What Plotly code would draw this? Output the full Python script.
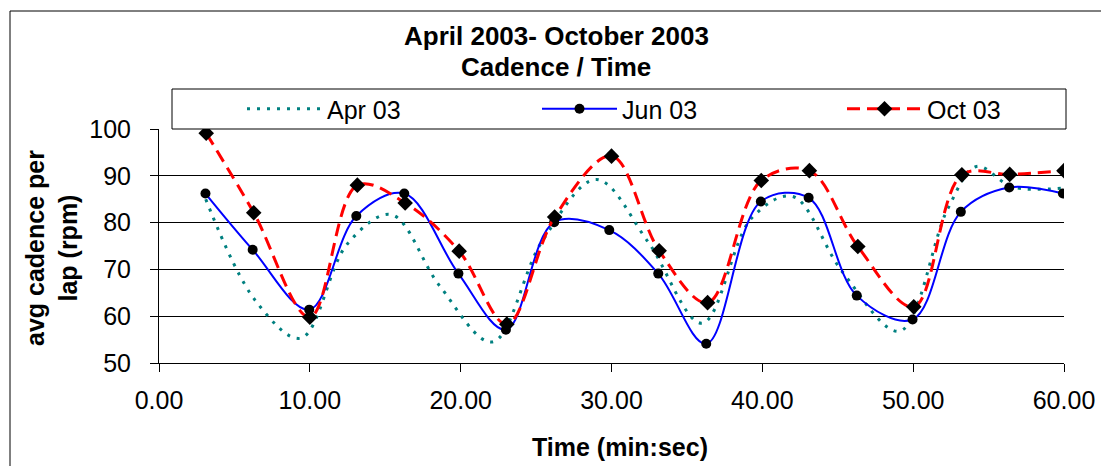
import plotly.graph_objects as go

# ---------------- data ----------------
apr_time = [3.1, 6.4, 9.4, 12.5, 15.4, 18.6, 22.1, 25.4, 29.0, 32.4, 36.0, 39.3, 42.0, 45.3, 49.1, 52.3, 54.2, 56.6, 60.0]
apr_cad = [85.0, 63.3, 55.3, 75.5, 81.7, 66.5, 54.5, 76.0, 89.2, 76.0, 58.5, 81.0, 85.6, 69.5, 56.8, 83.0, 92.0, 87.6, 87.4]

jun_time = [3.08, 6.21, 9.96, 13.08, 16.26, 19.85, 23.0, 26.2, 29.85, 33.1, 36.28, 39.9, 43.07, 46.26, 49.96, 53.16, 56.37, 59.93]
jun_cad = [86.2, 74.2, 61.4, 81.4, 86.2, 69.1, 57.1, 80.1, 78.4, 69.1, 54.1, 84.5, 85.3, 64.4, 59.3, 82.3, 87.5, 86.2]

oct_time = [3.13, 6.28, 10.0, 13.15, 16.32, 19.9, 23.06, 26.23, 30.0, 33.16, 36.37, 39.93, 43.12, 46.33, 50.04, 53.23, 56.4, 60.0]
oct_cad = [99.1, 82.1, 59.8, 88.0, 84.2, 73.9, 58.3, 81.2, 94.2, 74.0, 62.9, 89.0, 91.1, 74.9, 62.0, 90.2, 90.3, 91.1]

series_names = ["Apr 03", "Jun 03", "Oct 03"]
x_ticks = [0, 10, 20, 30, 40, 50, 60]
y_ticks = [50, 60, 70, 80, 90, 100]

# ---------------- layout geometry ----------------
W, H = 1101, 466
ML, MR, MT, MB = 159, 37, 129, 103
PW, PH = W - ML - MR, H - MT - MB


def px(xp):
    return (xp - ML) / PW


def py(yp):
    return (H - MB - yp) / PH


FONT = "Arial, Liberation Sans, sans-serif"

fig = go.Figure()
fig.add_trace(go.Scatter(
    x=apr_time, y=apr_cad, name=series_names[0], mode="lines",
    line=dict(color="#008080", width=3, dash="3px,7px", shape="spline", smoothing=1.0),
    legend="legend",
))
fig.add_trace(go.Scatter(
    x=jun_time, y=jun_cad, name=series_names[1], mode="lines+markers",
    line=dict(color="#0000FF", width=2, shape="spline", smoothing=1.0),
    marker=dict(symbol="circle", size=10, color="black"),
    legend="legend2",
))
fig.add_trace(go.Scatter(
    x=oct_time, y=oct_cad, name=series_names[2], mode="lines+markers",
    line=dict(color="#FF0000", width=3, dash="13px,7px", shape="spline", smoothing=1.0),
    marker=dict(symbol="diamond", size=12, color="black"),
    legend="legend3",
))

leg_common = dict(
    orientation="h", xref="paper", yref="paper", yanchor="middle", xanchor="left",
    bgcolor="rgba(0,0,0,0)", borderwidth=0, font=dict(family=FONT, size=25, color="black"),
    itemwidth=75, itemclick=False, itemdoubleclick=False,
)

fig.update_layout(
    width=W, height=H,
    margin=dict(l=ML, r=MR, t=MT, b=MB, pad=0, autoexpand=False),
    paper_bgcolor="white", plot_bgcolor="white",
    font=dict(family=FONT, size=25, color="black"),
    showlegend=True,
    legend=dict(x=px(242), y=py(109), **leg_common),
    legend2=dict(x=px(537), y=py(109), **leg_common),
    legend3=dict(x=px(842), y=py(109), **leg_common),
    xaxis=dict(
        range=[0, 60], tickvals=x_ticks, tickformat=".2f",
        showline=True, linecolor="black", linewidth=1,
        ticks="outside", ticklen=8, tickcolor="black", tickwidth=1,
        showgrid=False, zeroline=False,
        tickfont=dict(family=FONT, size=25, color="black"),
        ticklabelstandoff=7,
    ),
    yaxis=dict(
        range=[50, 100], tickvals=y_ticks,
        showline=True, linecolor="black", linewidth=1,
        ticks="outside", ticklen=8, tickcolor="black", tickwidth=1,
        showgrid=True, gridcolor="black", gridwidth=1, zeroline=False,
        tickfont=dict(family=FONT, size=25, color="black"),
        ticklabelstandoff=14,
    ),
    shapes=[
        # outer chart border
        dict(type="rect", xref="paper", yref="paper", x0=px(10), x1=px(1115), y0=py(480), y1=py(11),
             line=dict(color="black", width=1), fillcolor="rgba(0,0,0,0)", layer="below"),
        # legend box
        dict(type="rect", xref="paper", yref="paper", x0=px(172), x1=px(1066), y0=py(129), y1=py(89),
             line=dict(color="black", width=1), fillcolor="white", layer="above"),
    ],
    annotations=[
        dict(text="<b>April 2003- October 2003</b>", xref="paper", yref="paper",
             x=px(556), y=py(36), xanchor="center", yanchor="middle", showarrow=False,
             font=dict(family=FONT, size=26, color="black")),
        dict(text="<b>Cadence / Time</b>", xref="paper", yref="paper",
             x=px(556), y=py(67), xanchor="center", yanchor="middle", showarrow=False,
             font=dict(family=FONT, size=26, color="black")),
        dict(text="<b>avg cadence per</b><br><b>lap (rpm)</b>", xref="paper", yref="paper",
             x=px(51), y=py(248), xanchor="center", yanchor="middle", showarrow=False, textangle=-90,
             font=dict(family=FONT, size=25, color="black")),
        dict(text="<b>Time (min:sec)</b>", xref="paper", yref="paper",
             x=px(620), y=py(447), xanchor="center", yanchor="middle", showarrow=False,
             font=dict(family=FONT, size=25, color="black")),
    ],
)

fig.write_html("out.html", config={"displayModeBar": False},
               post_script="document.body.style.margin='0px';")
